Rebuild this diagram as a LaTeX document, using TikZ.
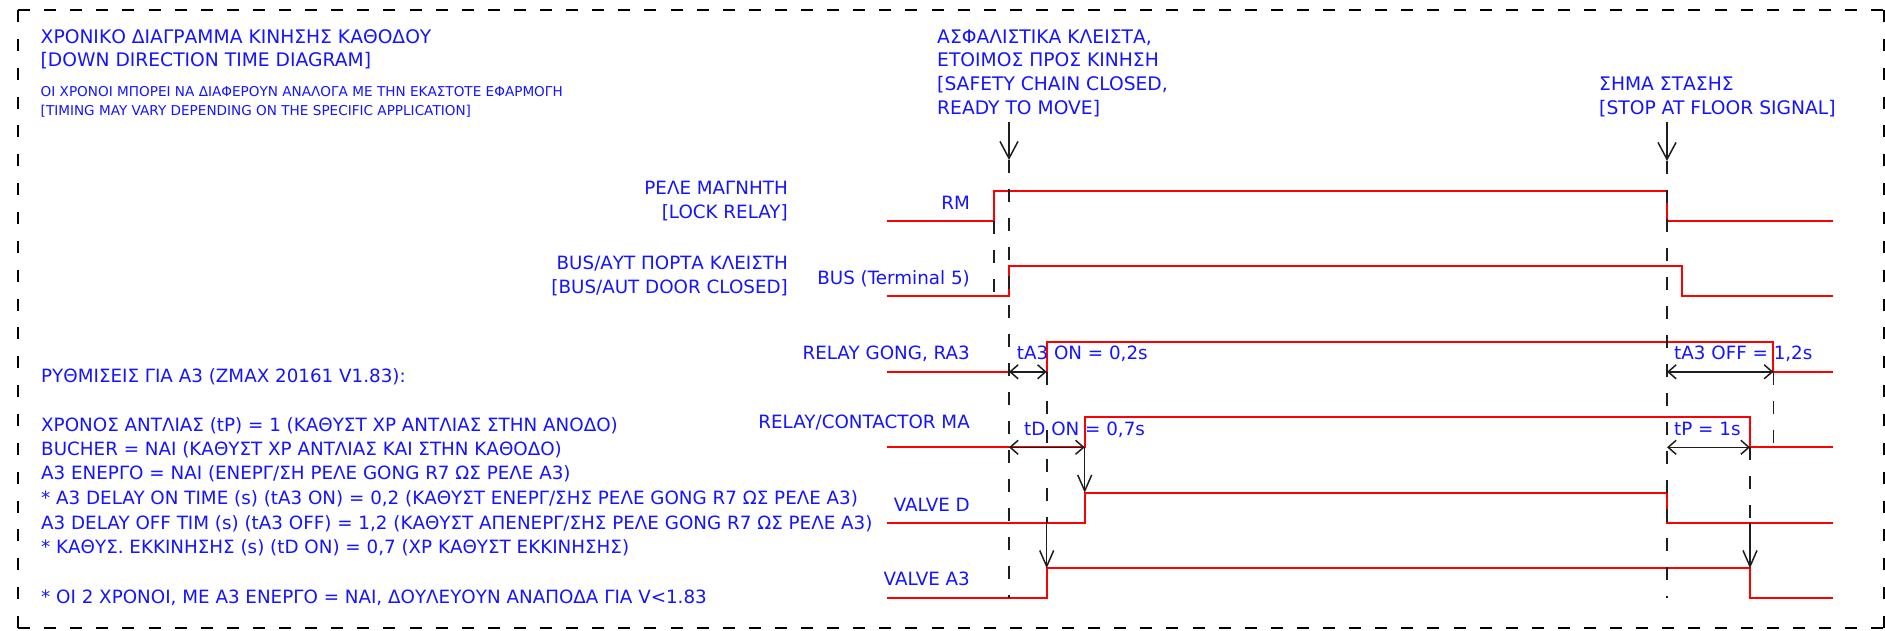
\documentclass[tikz,border=0pt]{standalone}
\usepackage{fontspec}
\setmainfont{DejaVu Sans}
\usetikzlibrary{arrows.meta}
\definecolor{txtblue}{RGB}{20,20,255}
\definecolor{sigred}{RGB}{255,0,0}
\definecolor{markgray}{RGB}{30,30,30}
\begin{document}
\begin{tikzpicture}[x=1pt,y=-1pt,
  txt/.style={text=txtblue, inner sep=0pt, font=\fontsize{18.3}{22}\selectfont},
  ttl/.style={text=txtblue, inner sep=0pt, font=\fontsize{18.7}{22}\selectfont},
  small/.style={text=txtblue, inner sep=0pt, font=\fontsize{13.6}{16}\selectfont},
  sig/.style={draw=sigred, line width=1.7pt, line join=miter},
  marker/.style={draw=markgray, line width=1.6pt, dash pattern=on 13pt off 16pt},
  evarrow/.style={draw=markgray, line width=1.5pt, -{Straight Barb[length=17pt,width=18pt]}},
  causal/.style={draw=markgray, line width=1.5pt, -{Straight Barb[length=16pt,width=14pt]}},
  dimarrow/.style={draw=markgray, line width=1.5pt, {Straight Barb[length=8pt,width=14pt]}-{Straight Barb[length=8pt,width=14pt]}},
  frameh/.style={draw=black, line width=2pt, dash pattern=on 12pt off 14.1pt},
  framev/.style={draw=black, line width=2pt, dash pattern=on 12pt off 16.86pt},
]
\useasboundingbox (0,0) rectangle (1885,631);

% frame
\coordinate (fTL) at (18,10);
\coordinate (fTR) at (1883.5,10);
\coordinate (fBL) at (18,628);
\coordinate (fBR) at (1883.5,628);
\draw[frameh] (fTL) -- (fTR);
\draw[frameh] (fBL) -- (fBR);
\draw[framev] (fTL) -- (fBL);
\draw[framev] (fTR) -- (fBR);

% left texts
\node[ttl, anchor=base west] (title1) at (40.5,43.5) {ΧΡΟΝΙΚΟ ΔΙΑΓΡΑΜΜΑ ΚΙΝΗΣΗΣ ΚΑΘΟΔΟΥ};
\node[ttl, anchor=base west] (title2) at (40.5,66.8) {[DOWN DIRECTION TIME DIAGRAM]};
\node[small, anchor=base west] (note1) at (40.5,96.8) {ΟΙ ΧΡΟΝΟΙ ΜΠΟΡΕΙ ΝΑ ΔΙΑΦΕΡΟΥΝ ΑΝΑΛΟΓΑ ΜΕ ΤΗΝ ΕΚΑΣΤΟΤΕ ΕΦΑΡΜΟΓΗ};
\node[small, anchor=base west] (note2) at (40.5,116) {[TIMING MAY VARY DEPENDING ON THE SPECIFIC APPLICATION]};

\node[txt, anchor=base west] (set0) at (41,382.7) {ΡΥΘΜΙΣΕΙΣ ΓΙΑ Α3 (ZMAX 20161 V1.83):};
\node[txt, anchor=base west] (set1) at (41,431.7) {ΧΡΟΝΟΣ ΑΝΤΛΙΑΣ (tP) = 1 (ΚΑΘΥΣΤ ΧΡ ΑΝΤΛΙΑΣ ΣΤΗΝ ΑΝΟΔΟ)};
\node[txt, anchor=base west] (set2) at (41,455.7) {BUCHER = ΝΑΙ (ΚΑΘΥΣΤ ΧΡ ΑΝΤΛΙΑΣ ΚΑΙ ΣΤΗΝ ΚΑΘΟΔΟ)};
\node[txt, anchor=base west] (set3) at (41,479.7) {Α3 ΕΝΕΡΓΟ = ΝΑΙ (ΕΝΕΡΓ/ΣΗ ΡΕΛΕ GONG R7 ΩΣ ΡΕΛΕ Α3)};
\node[txt, anchor=base west] (set4) at (41,504.7) {* A3 DELAY ON TIME (s) (tA3 ON) = 0,2 (ΚΑΘΥΣΤ ΕΝΕΡΓ/ΣΗΣ ΡΕΛΕ GONG R7 ΩΣ ΡΕΛΕ Α3)};
\node[txt, anchor=base west] (set5) at (41,529.7) {A3 DELAY OFF TIM (s) (tA3 OFF) = 1,2 (ΚΑΘΥΣΤ ΑΠΕΝΕΡΓ/ΣΗΣ ΡΕΛΕ GONG R7 ΩΣ ΡΕΛΕ Α3)};
\node[txt, anchor=base west] (set6) at (41,553.7) {* ΚΑΘΥΣ. ΕΚΚΙΝΗΣΗΣ (s) (tD ON) = 0,7 (ΧΡ ΚΑΘΥΣΤ ΕΚΚΙΝΗΣΗΣ)};
\node[txt, anchor=base west] (set7) at (41,603.7) {* ΟΙ 2 ΧΡΟΝΟΙ, ΜΕ Α3 ΕΝΕΡΓΟ = ΝΑΙ, ΔΟΥΛΕΥΟΥΝ ΑΝΑΠΟΔΑ ΓΙΑ V<1.83};

% top event texts
\node[ttl, anchor=base west] (ev1a) at (937,43.5) {ΑΣΦΑΛΙΣΤΙΚΑ ΚΛΕΙΣΤΑ,};
\node[ttl, anchor=base west] (ev1b) at (937,66.8) {ΕΤΟΙΜΟΣ ΠΡΟΣ ΚΙΝΗΣΗ};
\node[ttl, anchor=base west] (ev1c) at (937,90.8) {[SAFETY CHAIN CLOSED,};
\node[ttl, anchor=base west] (ev1d) at (937,114.8) {READY TO MOVE]};
\node[ttl, anchor=base west] (ev2a) at (1599,90.8) {ΣΗΜΑ ΣΤΑΣΗΣ};
\node[ttl, anchor=base west] (ev2b) at (1599,114.8) {[STOP AT FLOOR SIGNAL]};

% signal descriptions
\node[txt, anchor=base east] (d1a) at (788,194.2) {ΡΕΛΕ ΜΑΓΝΗΤΗ};
\node[txt, anchor=base east] (d1b) at (788,218.7) {[LOCK RELAY]};
\node[txt, anchor=base east] (d2a) at (788,269.2) {BUS/ΑΥΤ ΠΟΡΤΑ ΚΛΕΙΣΤΗ};
\node[txt, anchor=base east] (d2b) at (788,293.7) {[BUS/AUT DOOR CLOSED]};

% signal names
\node[txt, anchor=base east] (nRM) at (970,209.7) {RM};
\node[txt, anchor=base east] (nBUS) at (970,284.7) {BUS (Terminal 5)};
\node[txt, anchor=base east] (nRA) at (970,359.7) {RELAY GONG, RA3};
\node[txt, anchor=base east] (nMA) at (970,428.7) {RELAY/CONTACTOR MA};
\node[txt, anchor=base east] (nVD) at (970,511.7) {VALVE D};
\node[txt, anchor=base east] (nVA) at (970,585.7) {VALVE A3};

% signals
\draw[sig] (887,220.8) -- (994,220.8) -- (994,190.8) -- (1667,190.8) -- (1667,220.8) -- (1833,220.8);
\draw[sig] (887,296.3) -- (1009,296.3) -- (1009,266.3) -- (1682,266.3) -- (1682,296.3) -- (1833,296.3);
\draw[sig] (887,371.8) -- (1046.7,371.8) -- (1046.7,341.8) -- (1773.3,341.8) -- (1773.3,371.8) -- (1833,371.8);
\draw[sig] (887,447.3) -- (1084.7,447.3) -- (1084.7,417.3) -- (1750,417.3) -- (1750,447.3) -- (1833,447.3);
\draw[sig] (887,522.8) -- (1084.7,522.8) -- (1084.7,492.8) -- (1667,492.8) -- (1667,522.8) -- (1833,522.8);
\draw[sig] (887,598.3) -- (1046.7,598.3) -- (1046.7,568.3) -- (1750,568.3) -- (1750,598.3) -- (1833,598.3);

% key coordinates
\coordinate (rmRise) at (994,220.8);
\coordinate (busLow0) at (994,296.3);
\coordinate (ev1top) at (1009,122);
\coordinate (ev1tip) at (1009,160);
\coordinate (ev1bot) at (1009,598.3);
\coordinate (ev2top) at (1667,122);
\coordinate (ev2tip) at (1667,161);
\coordinate (ev2bot) at (1667,598.3);
\coordinate (raOn) at (1046.7,371.8);
\coordinate (vdA) at (1046.7,522.8);
\coordinate (vaOn) at (1046.7,568.3);
\coordinate (maOn) at (1084.7,447.3);
\coordinate (vdOn) at (1084.7,492.8);
\coordinate (raOff) at (1773.3,371.8);
\coordinate (raOffB) at (1773.3,447.3);
\coordinate (maOff) at (1750,447.3);
\coordinate (vdB) at (1750,522.8);
\coordinate (vaOff) at (1750,568.3);
\coordinate (ra1) at (1009,371.8);
\coordinate (ma1) at (1009,447.3);
\coordinate (ra2) at (1667,371.8);
\coordinate (ma2) at (1667,447.3);

% markers
\draw[marker] (rmRise) -- (busLow0);
\draw[marker] (ev1tip) -- (ev1bot);
\draw[marker] (ev2tip) -- (ev2bot);
\draw[marker] (raOn) -- (vdA);
\draw[marker] (raOff) -- (raOffB);
\draw[marker] (maOff) -- (vdB);

% arrows
\draw[evarrow] (ev1top) -- (ev1tip);
\draw[evarrow] (ev2top) -- (ev2tip);
\draw[causal] (vdA) -- (vaOn);
\draw[causal] (maOn) -- (vdOn);
\draw[causal] (vdB) -- (vaOff);
\draw[dimarrow] (ra1) -- (raOn);
\draw[dimarrow] (ma1) -- (maOn);
\draw[dimarrow] (ra2) -- (raOff);
\draw[dimarrow] (ma2) -- (maOff);

% dimension labels
\node[txt, anchor=base west] (lA3on) at (1016.7,359.7) {tA3 ON = 0,2s};
\node[txt, anchor=base west] (lDon) at (1024,435.7) {tD ON = 0,7s};
\node[txt, anchor=base west] (lA3off) at (1674,359.7) {tA3 OFF = 1,2s};
\node[txt, anchor=base west] (lP) at (1674,435.7) {tP = 1s};
\end{tikzpicture}
\end{document}
